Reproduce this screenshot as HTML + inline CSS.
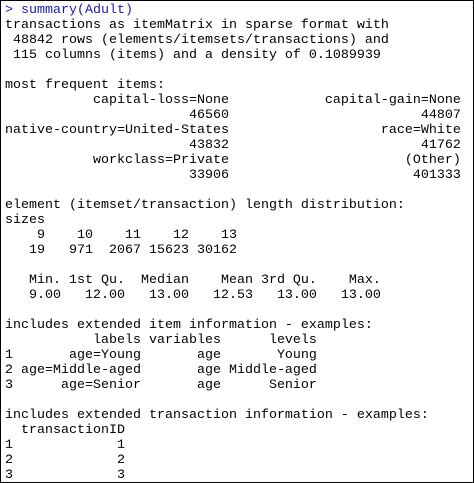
<!DOCTYPE html>
<html><head><meta charset="utf-8"><style>
html,body{margin:0;padding:0;background:#fff;}
.box{position:absolute;left:0;top:0;width:472px;height:481px;border:1px solid #000;overflow:hidden;}
pre{position:absolute;left:4px;top:2px;margin:0;font-family:"Liberation Mono",monospace;font-size:13.33px;line-height:15px;color:#000;}
.b{color:#1a1aa6;}
</style></head><body><div class="box"><pre><span class="b">&gt; summary(Adult)</span>
transactions as itemMatrix in sparse format with
 48842 rows (elements/itemsets/transactions) and
 115 columns (items) and a density of 0.1089939 

most frequent items:
           capital-loss=None            capital-gain=None 
                       46560                        44807 
native-country=United-States                   race=White 
                       43832                        41762 
           workclass=Private                      (Other) 
                       33906                       401333 

element (itemset/transaction) length distribution:
sizes
    9    10    11    12    13 
   19   971  2067 15623 30162 

   Min. 1st Qu.  Median    Mean 3rd Qu.    Max. 
   9.00   12.00   13.00   12.53   13.00   13.00 

includes extended item information - examples:
           labels variables      levels
1       age=Young       age       Young
2 age=Middle-aged       age Middle-aged
3      age=Senior       age      Senior

includes extended transaction information - examples:
  transactionID
1             1
2             2
3             3</pre></div></body></html>
